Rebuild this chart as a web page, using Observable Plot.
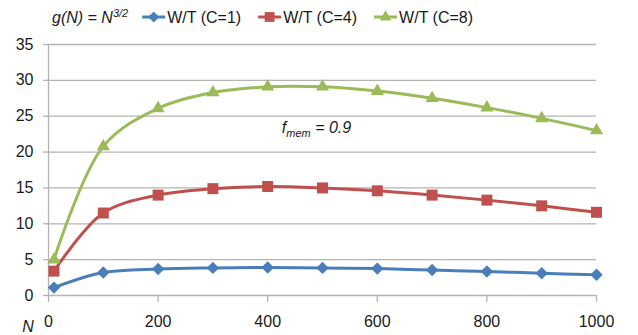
<!DOCTYPE html>
<html><head><meta charset="utf-8">
<script src="https://cdn.jsdelivr.net/npm/d3@7"></script>
<script src="https://cdn.jsdelivr.net/npm/@observablehq/plot@0.6"></script>
<style>
body{margin:0;background:#fff;font-family:"Liberation Sans",Arial,sans-serif;}
#legend{display:block}
</style>
</head><body>
<div id="chart"></div>
<script>
// ---- data ----
const N = [10, 100, 200, 300, 400, 500, 600, 700, 800, 900, 1000];
const wtC1 = [1.1, 3.2, 3.7, 3.85, 3.9, 3.85, 3.75, 3.55, 3.35, 3.1, 2.9];
const wtC4 = [3.4, 11.5, 14.0, 14.9, 15.2, 15.0, 14.6, 14.0, 13.3, 12.5, 11.6];
const wtC8 = [5.0, 20.8, 26.1, 28.3, 29.1, 29.1, 28.5, 27.5, 26.2, 24.7, 23.0];
const seriesNames = ["W/T (C=1)", "W/T (C=4)", "W/T (C=8)"];
const seriesColors = ["#4a7ebb", "#c0504d", "#9bbb59"];
const seriesSymbols = ["diamond2", "square", "triangle"];
const seriesR = [5.6, 6.2, 4.9];
const xTicks = [0, 200, 400, 600, 800, 1000];
const yTicks = [0, 5, 10, 15, 20, 25, 30, 35];
const annotation = {n: 490, v: 22.6, label: "mem", text: " = 0.9"};

const allSeries = [wtC1, wtC4, wtC8];
const rows = [];
allSeries.forEach((vals, i) => vals.forEach((v, j) => rows.push({n: N[j], v, series: seriesNames[i]})));

const font = "Liberation Sans, Arial, sans-serif";
const textColor = "#1a1a1a";
const gridColor = "#b3b3b3";

// ---- legend ----
const legendSvg = d3.create("svg").attr("id", "legend").attr("width", 638).attr("height", 34)
  .style("font-family", font).style("font-size", "16px");
const title = legendSvg.append("text").attr("x", 52).attr("y", 23).attr("fill", textColor)
  .style("font-style", "italic");
title.append("tspan").text("g(N) = N");
title.append("tspan").attr("dy", -6).style("font-size", "11px").text("3/2");
document.getElementById("chart").appendChild(legendSvg.node());
let cursor = 52 + title.node().getComputedTextLength() + 14;
seriesNames.forEach((name, i) => {
  legendSvg.append("line").attr("x1", cursor).attr("x2", cursor + 23).attr("y1", 17).attr("y2", 17)
    .attr("stroke", seriesColors[i]).attr("stroke-width", 3);
  const symMap = {diamond2: d3.symbolDiamond2, square: d3.symbolSquare, triangle: d3.symbolTriangle};
  legendSvg.append("path").attr("transform", `translate(${cursor + 11.5},17)`)
    .attr("d", d3.symbol(symMap[seriesSymbols[i]], Math.PI * seriesR[i] * seriesR[i] * 0.8)())
    .attr("fill", seriesColors[i]);
  const t = legendSvg.append("text").attr("x", cursor + 25).attr("y", 23).attr("fill", textColor).text(name);
  cursor += 25 + t.node().getComputedTextLength() + 17;
});

// ---- plot ----
const marks = [
  Plot.gridY(yTicks, {stroke: gridColor, strokeOpacity: 1, strokeWidth: 1.3}),
  Plot.ruleX([0], {stroke: gridColor, strokeWidth: 1.3}),
  Plot.axisY(yTicks, {tickSize: 5, tickPadding: 10, label: null, stroke: gridColor, strokeWidth: 1.3, fill: textColor}),
  Plot.axisX(xTicks, {tickSize: 7, tickPadding: 13, label: null, stroke: gridColor, strokeWidth: 1.3, fill: textColor, tickFormat: d3.format("d")}),
  Plot.line(rows, {x: "n", y: "v", z: "series", stroke: "series", curve: "catmull-rom", strokeWidth: 3})
];
seriesNames.forEach((name, i) => {
  marks.push(Plot.dot(rows.filter(d => d.series === name),
    {x: "n", y: "v", fill: seriesColors[i], symbol: seriesSymbols[i], r: seriesR[i]}));
});

const plot = Plot.plot({
  width: 638, height: 301,
  marginTop: 10, marginLeft: 48, marginRight: 42, marginBottom: 40,
  style: {fontFamily: font, fontSize: "16px", color: textColor, background: "#fff"},
  x: {domain: [0, 1000]},
  y: {domain: [0, 35]},
  color: {domain: seriesNames, range: seriesColors},
  marks
});
document.getElementById("chart").appendChild(plot);

const xs = plot.scale("x"), ys = plot.scale("y");
const svg = d3.select(plot);
// annotation f_mem = 0.9
const ann = svg.append("text").attr("x", xs.apply(annotation.n)).attr("y", ys.apply(annotation.v))
  .attr("text-anchor", "middle").attr("fill", textColor)
  .style("font-family", font).style("font-size", "16px").style("font-style", "italic");
ann.append("tspan").text("f");
ann.append("tspan").attr("dy", 4).style("font-size", "11px").text(annotation.label);
ann.append("tspan").attr("dy", -4).text(annotation.text);
// axis name N
svg.append("text").attr("x", xs.apply(0) - 20).attr("y", ys.apply(0) + 37)
  .attr("fill", textColor).style("font-family", font).style("font-size", "16px")
  .style("font-style", "italic").text("N");
</script>
</body></html>
